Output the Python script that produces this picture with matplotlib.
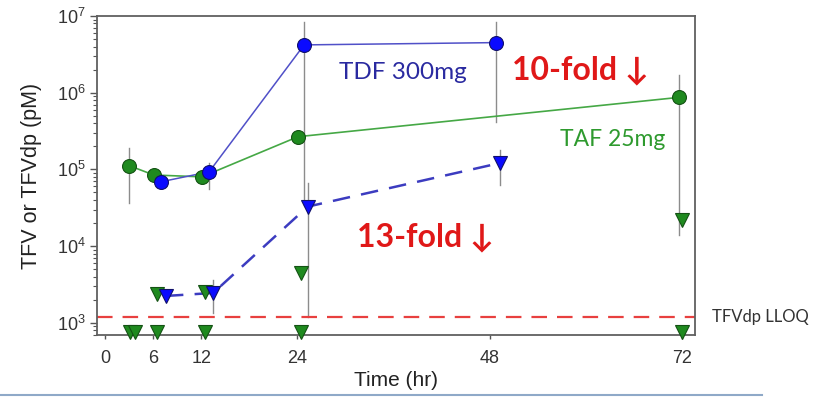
import matplotlib
matplotlib.use("Agg")
import matplotlib.pyplot as plt
import numpy as np
from matplotlib.lines import Line2D
from matplotlib.ticker import LogLocator, FixedLocator, NullFormatter

plt.rcParams["mathtext.fontset"] = "custom"
plt.rcParams["mathtext.rm"] = "Liberation Sans"
plt.rcParams["mathtext.it"] = "Liberation Sans:italic"
plt.rcParams["mathtext.bf"] = "Liberation Sans:bold"

# ---- data ----
# TAF 25 mg, plasma TFV (green circles)
taf_tfv_time = [3.0, 6.1, 12.1, 24.1, 71.7]
taf_tfv = [1.12e5, 8.45e4, 8.0e4, 2.67e5, 8.7e5]
taf_tfv_lo = [3.65e4, None, None, None, 1.4e4]
taf_tfv_hi = [1.9e5, None, None, None, 1.7e6]

# TDF 300 mg, plasma TFV (blue circles)
tdf_tfv_time = [7.0, 13.0, 24.85, 48.8]
tdf_tfv = [6.9e4, 9.3e4, 4.2e6, 4.5e6]
tdf_tfv_lo = [None, 5.5e4, 3.4e4, 4.2e5]
tdf_tfv_hi = [None, 1.21e5, 8.3e6, 8.3e6]

# TDF 300 mg, TFVdp (blue triangles, dashed)
tdf_dp_time = [7.6, 13.5, 25.3, 49.3]
tdf_dp = [2.24e3, 2.45e3, 3.27e4, 1.21e5]
tdf_dp_lo = [None, 1.34e3, 1.19e3, 6.3e4]
tdf_dp_hi = [None, 3.6e3, 6.65e4, 1.79e5]

# TAF 25 mg, TFVdp quantifiable (green triangles)
taf_dp_time = [6.5, 12.5, 24.5, 72.0]
taf_dp = [2.38e3, 2.5e3, 4.46e3, 2.19e4]

# TAF 25 mg, TFVdp below LLOQ (green triangles at bottom)
taf_blq_time = [3.1, 3.7, 6.5, 12.5, 24.5, 72.0]
taf_blq = [770, 770, 770, 770, 770, 770]

lloq = 1.19e3
x_ticks = [0, 6, 12, 24, 48, 72]
y_ticks = [1e3, 1e4, 1e5, 1e6, 1e7]
y_ticklabels = [r"$10^3$", r"$10^4$", r"$10^5$", r"$10^6$", r"$10^7$"]

# ---- styling ----
GREEN = "#1f8a1f"
GREEN_EDGE = "#145214"
GREEN_LINE = "#45a845"
BLUE = "#0a0aff"
BLUE_EDGE = "#10106a"
BLUE_LINE = "#5050c8"
BLUE_DASH = "#3c3cc0"
ERR = "#8c8c8c"
RED = "#e8403f"

fig = plt.figure(figsize=(8.17, 3.97), dpi=100)
ax = fig.add_axes([97/817, 1-335/397, (695-97)/817, (335-16)/397])
ax.set_yscale("log")
ax.set_xlim(-1, 73.65)
ax.set_ylim(10**2.841, 1e7)


def errbars(t, lo, hi):
    for xi, l, h in zip(t, lo, hi):
        if l is not None:
            ax.plot([xi, xi], [l, h], color=ERR, lw=1.0, zorder=1)


errbars(taf_tfv_time, taf_tfv_lo, taf_tfv_hi)
errbars(tdf_tfv_time, tdf_tfv_lo, tdf_tfv_hi)
errbars(tdf_dp_time, tdf_dp_lo, tdf_dp_hi)

# LLOQ line
ax.axhline(lloq, color=RED, lw=1.6, dashes=(7, 4.5), zorder=2)

# green triangles
ax.plot(taf_blq_time, taf_blq, "v", ms=10, mfc=GREEN, mec=GREEN_EDGE, mew=0.8,
        ls="none", zorder=4, clip_on=False)
ax.plot(taf_dp_time, taf_dp, "v", ms=10, mfc=GREEN, mec=GREEN_EDGE, mew=0.8,
        ls="none", zorder=4)

# TDF TFVdp dashed
ax.plot(tdf_dp_time, tdf_dp, "-", color=BLUE_DASH, lw=1.8, dashes=(7, 4.5), zorder=3)
ax.plot(tdf_dp_time, tdf_dp, "v", ms=10, mfc=BLUE, mec=BLUE_EDGE, mew=0.8,
        ls="none", zorder=5)

# TAF TFV
ax.plot(taf_tfv_time, taf_tfv, "-", color=GREEN_LINE, lw=1.2, zorder=3)
ax.plot(taf_tfv_time, taf_tfv, "o", ms=10, mfc=GREEN, mec=GREEN_EDGE, mew=0.8,
        ls="none", zorder=5)

# TDF TFV
ax.plot(tdf_tfv_time, tdf_tfv, "-", color=BLUE_LINE, lw=1.1, zorder=3)
ax.plot(tdf_tfv_time, tdf_tfv, "o", ms=10, mfc=BLUE, mec=BLUE_EDGE, mew=0.8,
        ls="none", zorder=6)

# axes styling
for s in ax.spines.values():
    s.set_color("#606060")
    s.set_linewidth(1.3)
ax.set_xticks(x_ticks)
ax.set_xticklabels([str(v) for v in x_ticks], fontsize=13, family="Liberation Sans",
                   color="#333333")
ax.yaxis.set_major_locator(FixedLocator(y_ticks))
ax.set_yticklabels(y_ticklabels, fontsize=13, color="#333333")
ax.yaxis.set_minor_locator(LogLocator(base=10, subs=np.arange(2, 10)))
ax.yaxis.set_minor_formatter(NullFormatter())
ax.tick_params(axis="y", which="major", direction="out", length=5, width=1, color="#555555", pad=3)
ax.tick_params(axis="y", which="minor", direction="out", length=3, width=0.8, color="#555555")
ax.tick_params(axis="x", which="major", direction="out", length=3, width=1, color="#555555", pad=8)

ax.set_xlabel("Time (hr)", fontsize=15, family="Liberation Sans", color="#222222", labelpad=3)
ax.set_ylabel("TFV or TFVdp (pM)", fontsize=15.5, family="Liberation Sans", color="#222222", labelpad=11)

# annotations
ax.text(29.2, 1.86e6, "TDF 300mg", color="#2a2aa0", fontsize=17.5, family="Lato", ha="left", va="center")
ax.text(50.8, 1.95e6, "10-fold \u2193", color="#e01818", fontsize=23, family="Lato",
        fontweight="bold", ha="left", va="center")
ax.text(56.8, 2.45e5, "TAF 25mg", color="#2e9a2e", fontsize=16.5, family="Lato", ha="left", va="center")
ax.text(31.5, 1.3e4, "13-fold \u2193", color="#e01818", fontsize=23, family="Lato",
        fontweight="bold", ha="left", va="center")
ax.text(1.028, lloq, "TFVdp LLOQ", transform=ax.get_yaxis_transform(), color="#333333",
        fontsize=12, family="Lato", ha="left", va="center")

# slide border line at bottom
fig.add_artist(Line2D([0, 762/817], [1-395/397, 1-395/397], color="#8fa9c8", lw=1.5,
                      transform=fig.transFigure))

fig.savefig("out.png", dpi=100)
